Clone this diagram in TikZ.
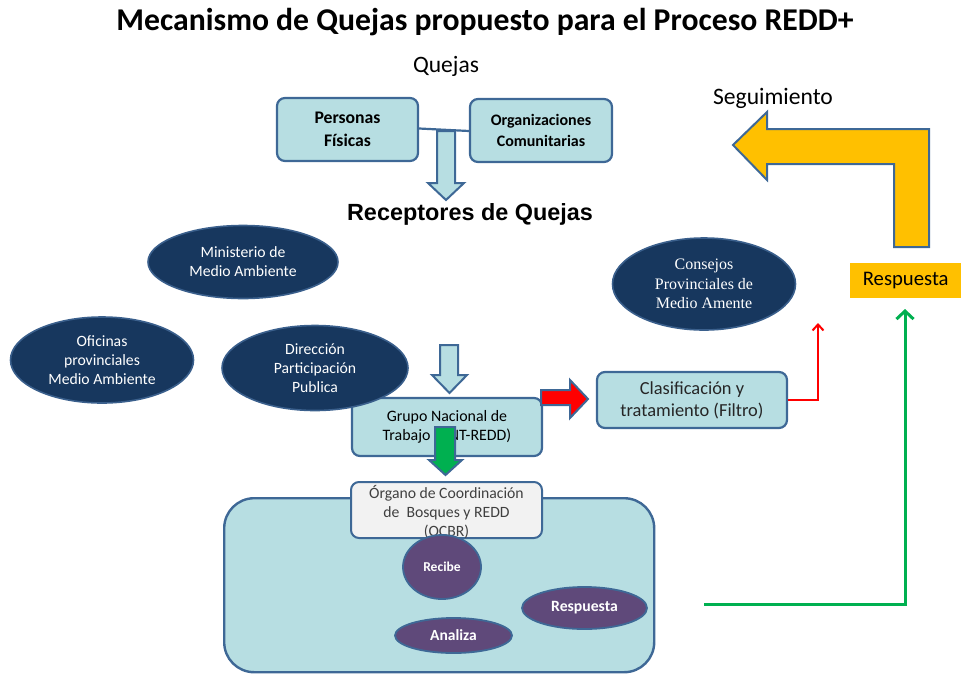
\documentclass[tikz,border=0pt]{standalone}
\usepackage{fontspec}
\setmainfont{Carlito}
\newfontfamily\arialfont{Liberation Sans}
\newfontfamily\timesfont{Liberation Serif}
\usetikzlibrary{shapes.geometric,arrows.meta}
\definecolor{cyanfill}{HTML}{B7DEE2}
\definecolor{bordblue}{HTML}{3E6896}
\definecolor{navy}{HTML}{17375E}
\definecolor{navyline}{HTML}{3A5F8C}
\definecolor{purp}{HTML}{5F497A}
\definecolor{yel}{HTML}{FFC000}
\definecolor{grn}{HTML}{00B050}
\definecolor{redc}{HTML}{FF0000}
\definecolor{lgray}{HTML}{F2F2F2}
\definecolor{dgray}{HTML}{404040}
\tikzset{
  cbox/.style={draw=bordblue, line width=2.2pt, fill=cyanfill, rounded corners=8pt, align=center, inner sep=0pt},
  navyell/.style={ellipse, draw=navyline, line width=1.6pt, fill=navy, text=white, align=center, inner sep=0pt},
  purpell/.style={ellipse, draw=bordblue, line width=1.8pt, fill=purp, text=white, align=center, inner sep=0pt, font=\bfseries},
  blockarrow/.style={draw=bordblue, line width=2pt, line join=miter},
}
\begin{document}
\begin{tikzpicture}[x=1pt,y=-1pt]
\useasboundingbox (0,0) rectangle (961,673);
% titles
\node[font=\bfseries\fontsize{31.7}{36}\selectfont] (title) at (485,22) {Mecanismo de Quejas propuesto para el Proceso REDD+};
\node[font=\fontsize{23.5}{27}\selectfont] (quejas) at (446,66) {Quejas};
\node[font=\fontsize{23.6}{27}\selectfont] (seg) at (773,98) {Seguimiento};
\node[font=\arialfont\bfseries\fontsize{23.4}{27}\selectfont] (recep) at (470,214) {Receptores de Quejas};

% top boxes
\node[cbox, minimum width=141pt, minimum height=63pt, font=\bfseries\fontsize{17.7}{23}\selectfont] (pers) at (347.5,129.5) {Personas\\Físicas};
\node[cbox, minimum width=142pt, minimum height=63pt, font=\bfseries\fontsize{16}{21}\selectfont] (org) at (541,130.5) {Organizaciones\\Comunitarias};
\draw[bordblue, line width=2.2pt] (pers.east) ++(0,-1) coordinate (pe) -- (org.west |- 0,131) coordinate (ow);
\draw[blockarrow, fill=cyanfill] (437,131) -- (455,131) -- (455,183) -- (464,183) -- (446,200) -- (428,183) -- (437,183) -- cycle;

% yellow L arrow
\draw[blockarrow, fill=yel] (733,145) -- (767,112) -- (767,129) -- (929,129) -- (929,247) -- (894,247) -- (894,164) -- (767,164) -- (767,180) -- cycle;
\node[fill=yel, minimum width=111pt, minimum height=35pt, inner sep=0pt, anchor=north west, font=\fontsize{20.7}{24}\selectfont] (resp) at (850,263) {Respuesta};

% ellipses
\node[navyell, minimum width=190pt, minimum height=73pt, font=\fontsize{15.7}{19}\selectfont] (min) at (243,262) {Ministerio de\\Medio Ambiente};
\node[navyell, minimum width=183pt, minimum height=86pt, font=\fontsize{15.7}{19}\selectfont] (ofi) at (102,360) {Oficinas\\provinciales\\Medio Ambiente};

% small arrow above grupo
\draw[blockarrow, fill=cyanfill] (440,345) -- (458,345) -- (458,375) -- (467,375) -- (449.5,393) -- (432,375) -- (440,375) -- cycle;
% grupo box
\node[cbox, minimum width=190pt, minimum height=58pt, font=\fontsize{15.9}{19}\selectfont] (grupo) at (447,427) {Grupo Nacional de\\Trabajo (GNT-REDD)};
\node[navyell, minimum width=186pt, minimum height=85pt, font=\fontsize{15.7}{19}\selectfont] (dir) at (315,368) {Dirección\\Participación\\Publica};

% red arrow and clasificacion
\draw[blockarrow, fill=redc] (541,390) -- (570,390) -- (570,380) -- (588,399) -- (570,418) -- (570,405) -- (541,405) -- cycle;
\node[cbox, minimum width=190pt, minimum height=56pt, font=\fontsize{18.4}{22}\selectfont, text=black!85] (clas) at (692,400) {Clasificación y\\tratamiento (Filtro)};
\coordinate (redcorner) at (818,400);
\coordinate (redend) at (818,323);
\draw[redc, line width=2pt, -{Straight Barb[length=6pt,width=11pt,line width=2pt]}] (clas.east) -- (redcorner) -- (redend);

\node[navyell, minimum width=183pt, minimum height=92pt, font=\timesfont\fontsize{16}{19.5}\selectfont] (cons) at (704,284) {Consejos\\Provinciales de\\Medio Amente};

% container
\node[draw=bordblue, line width=2.4pt, fill=cyanfill, rounded corners=30pt, minimum width=430pt, minimum height=174pt, inner sep=0pt, anchor=north west] (cont) at (223,497) {};
\node[draw=bordblue, line width=2pt, fill=lgray, rounded corners=8pt, minimum width=191pt, minimum height=56pt, inner sep=0pt] (organo) at (446.5,510) {};
\node[text=dgray, align=center, font=\fontsize{15.7}{19}\selectfont] (organotxt) at (446.5,512) {Órgano de Coordinación\\de\ \ Bosques y REDD\\(OCBR)};
% green arrow
\draw[blockarrow, fill=grn] (435,427) -- (455,427) -- (455,460) -- (462,460) -- (445.5,475) -- (429,460) -- (435,460) -- cycle;

\node[purpell, minimum width=78pt, minimum height=64pt, font=\bfseries\fontsize{13.6}{16}\selectfont] (recibe) at (442,567) {Recibe};
\node[purpell, minimum width=125pt, minimum height=42pt, font=\bfseries\fontsize{15.7}{19}\selectfont] (rell) at (584.5,608) {Respuesta};
\node[purpell, minimum width=117pt, minimum height=35pt, font=\bfseries\fontsize{15.5}{19}\selectfont] (analiza) at (453.5,635.5) {Analiza};

% green line
\coordinate (gstart) at (704,604);
\coordinate (gcorner) at (905,604);
\coordinate (gend) at (905,309);
\draw[grn, line width=3pt, -{Straight Barb[length=8pt,width=17pt,line width=3pt]}] (gstart) -- (gcorner) -- (gend);
\end{tikzpicture}
\end{document}
